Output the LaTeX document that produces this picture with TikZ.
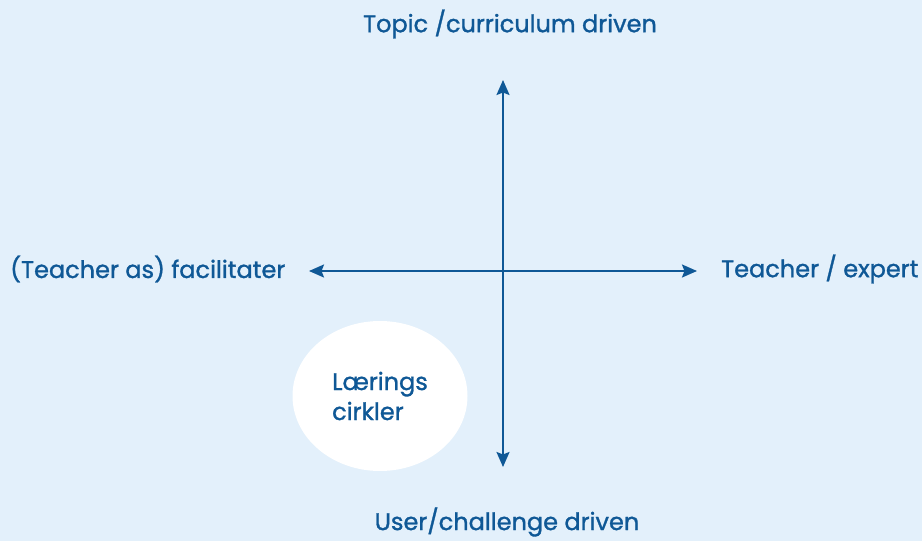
\documentclass[tikz,border=0pt]{standalone}
\usepackage{fontspec}
\setmainfont{Poppins}
\newfontfamily\lblfont{Poppins}[FakeBold=1.2]
\usepackage{tikz}
\usetikzlibrary{positioning}
\usetikzlibrary{arrows.meta,shapes.geometric}

\definecolor{bgblue}{HTML}{E3F0FB}
\definecolor{axisblue}{HTML}{0F5896}

\begin{document}
\begin{tikzpicture}[x=1pt,y=-1pt,
  axis/.style={draw=axisblue,line width=2pt,{Stealth[length=15pt,width=13pt,inset=2.5pt]}-{Stealth[length=15pt,width=13pt,inset=2.5pt]}},
  lbl/.style={text=axisblue,font=\lblfont\fontsize{24}{30}\selectfont,inner sep=0pt}]

  %background
  \fill[bgblue] (0,0) rectangle (922,541);
  \useasboundingbox (0,0) rectangle (922,541);

  %axis ends
  \coordinate (N) at (503,80);
  \coordinate (S) at (503,467);
  \coordinate (W) at (309,271);
  \coordinate (E) at (697,271);

  \draw[axis,fill=axisblue] (S) -- (N);
  \draw[axis,fill=axisblue] (W) -- (E);

  %labels
  \node[lbl] (top) at (510,24) {Topic /curriculum driven};
  \node[lbl] (bottom) at (507,522) {User/challenge driven};
  \node[lbl,anchor=west] (left) at (10,269) {(Teacher as) facilitater};
  \node[lbl,anchor=west] (right) at (721,269) {Teacher / expert};

  %circle
  \node[ellipse,fill=white,minimum width=175pt,minimum height=150pt,
        lbl,align=left] (circ) at (380,396) {Lærings\\cirkler};

\end{tikzpicture}
\end{document}
